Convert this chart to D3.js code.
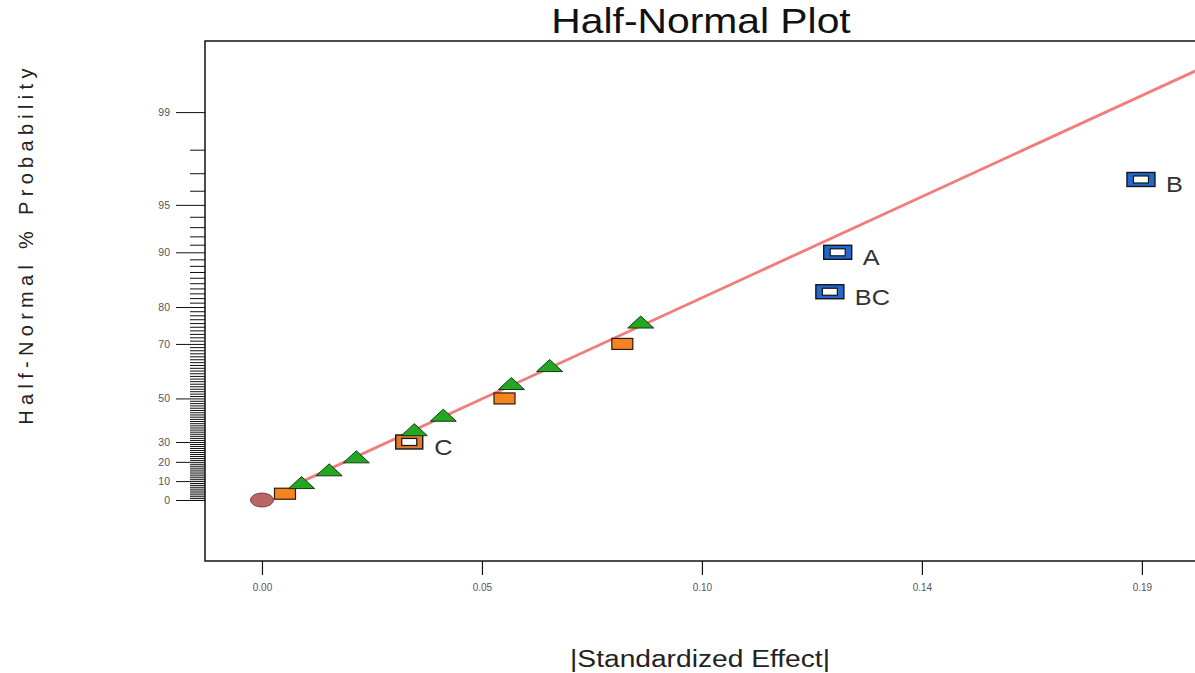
<!DOCTYPE html>
<html>
<head>
<meta charset="utf-8">
<script src="https://cdn.jsdelivr.net/npm/d3@7"></script>
<style>
  html, body { margin: 0; padding: 0; background: #ffffff; }
  svg { display: block; font-family: Arial, "Liberation Sans", sans-serif; }
</style>
</head>
<body>
<svg id="chart" width="1195" height="673"></svg>
<script>
// Absolute standardized effects for each model term
const effects = [0, 0.0050, 0.0086, 0.0146, 0.0205, 0.0320, 0.0331, 0.0394, 0.0527,
                 0.0542, 0.0625, 0.0783, 0.0823, 0.1234, 0.1251, 0.1910];
// Half-normal % probability for each term
const probabilities = [0, 3.33, 10, 16.67, 23.33, 30, 36.67, 43.33, 50,
                       56.67, 63.33, 70, 76.67, 83.33, 90, 96.67];
// Term kind: origin, negative effect, error estimate, positive effect
const termKinds = ["origin", "negative", "error", "error", "error", "negative", "error", "error", "negative",
                   "error", "error", "negative", "error", "positive", "positive", "positive"];
// Names of the selected model terms
const termLabels = ["", "", "", "", "", "C", "", "", "", "", "", "", "", "BC", "A", "B"];

// Reference line through the error terms
const fitLineEffects = [0.0075, 0.205];
const fitLineProbabilities = [8.39, 99.602];

// Axis ticks
const xTickValues = [0, 0.0478, 0.0956, 0.1434, 0.1912];
const yMajorTicks = [0, 10, 20, 30, 50, 70, 80, 90, 95, 99];

const titleText = "Half-Normal Plot";
const xTitleText = "|Standardized Effect|";
const yTitleText = "Half-Normal % Probability";

// ---- inverse standard normal CDF (Acklam) ----
function invNorm(p) {
  const a = [-3.969683028665376e+01, 2.209460984245205e+02, -2.759285104469687e+02,
             1.383577518672690e+02, -3.066479806614716e+01, 2.506628277459239e+00];
  const b = [-5.447609879822406e+01, 1.615858368580409e+02, -1.556989798598866e+02,
             6.680131188771972e+01, -1.328068155288572e+01];
  const c = [-7.784894002430293e-03, -3.223964580411365e-01, -2.400758277161838e+00,
             -2.549732539343734e+00, 4.374664141464968e+00, 2.938163982698783e+00];
  const d = [7.784695709041462e-03, 3.224671290700398e-01, 2.445134137142996e+00,
             3.754408661907416e+00];
  const pl = 0.02425, ph = 1 - pl;
  let q, r;
  if (p < pl) {
    q = Math.sqrt(-2 * Math.log(p));
    return (((((c[0]*q + c[1])*q + c[2])*q + c[3])*q + c[4])*q + c[5]) /
           ((((d[0]*q + d[1])*q + d[2])*q + d[3])*q + 1);
  }
  if (p <= ph) {
    q = p - 0.5; r = q * q;
    return (((((a[0]*r + a[1])*r + a[2])*r + a[3])*r + a[4])*r + a[5]) * q /
           (((((b[0]*r + b[1])*r + b[2])*r + b[3])*r + b[4])*r + 1);
  }
  q = Math.sqrt(-2 * Math.log(1 - p));
  return -(((((c[0]*q + c[1])*q + c[2])*q + c[3])*q + c[4])*q + c[5]) /
          ((((d[0]*q + d[1])*q + d[2])*q + d[3])*q + 1);
}
// half-normal quantile of a percentage
const halfNormalZ = pct => invNorm(0.5 + pct / 200);

// ---- layout ----
const svg = d3.select("#chart");
const plot = { left: 205, top: 41, right: 1210, bottom: 561 };

const x = d3.scaleLinear().domain([-0.01238, 0.2060]).range([plot.left, plot.right]);
const yz = d3.scaleLinear().domain([-0.405, 3.048]).range([plot.bottom, plot.top]);
const y = pct => yz(halfNormalZ(pct));

const STRETCH = 1.15;

svg.append("rect").attr("width", 1195).attr("height", 673).attr("fill", "#ffffff");

svg.append("defs").append("clipPath").attr("id", "plotClip")
  .append("rect")
  .attr("x", plot.left).attr("y", plot.top)
  .attr("width", plot.right - plot.left).attr("height", plot.bottom - plot.top);

// ---- y axis: probability scale ----
const yMinor = d3.range(1, 99).filter(v => !yMajorTicks.includes(v));

const yMinorAxis = d3.axisLeft(yz)
  .tickValues(yMinor.map(halfNormalZ))
  .tickSize(15)
  .tickFormat("");
svg.append("g")
  .attr("transform", `translate(${plot.left},0)`)
  .call(yMinorAxis)
  .call(g => g.select(".domain").remove())
  .call(g => g.selectAll("line").attr("stroke", "#111").attr("stroke-width", 1));

const yMajorAxis = d3.axisLeft(yz)
  .tickValues(yMajorTicks.map(halfNormalZ))
  .tickSize(29)
  .tickPadding(6)
  .tickFormat((d, i) => yMajorTicks[i]);
svg.append("g")
  .attr("transform", `translate(${plot.left},0)`)
  .call(yMajorAxis)
  .call(g => g.select(".domain").remove())
  .call(g => g.selectAll("line").attr("stroke", "#111").attr("stroke-width", 1))
  .call(g => g.selectAll("text")
    .attr("font-family", "Arial, 'Liberation Sans', sans-serif")
    .attr("font-size", 10.5).attr("fill", "#555"));

// ---- x axis ----
const xAxis = d3.axisBottom(x)
  .tickValues(xTickValues)
  .tickSize(14)
  .tickPadding(9)
  .tickFormat(d3.format(".2f"));
svg.append("g")
  .attr("transform", `translate(0,${plot.bottom})`)
  .call(xAxis)
  .call(g => g.select(".domain").remove())
  .call(g => g.selectAll("line").attr("stroke", "#111").attr("stroke-width", 1.2))
  .call(g => g.selectAll("text")
    .attr("font-family", "Arial, 'Liberation Sans', sans-serif")
    .attr("font-size", 10).attr("fill", "#555"));

// ---- plot frame ----
svg.append("rect")
  .attr("x", plot.left).attr("y", plot.top)
  .attr("width", plot.right - plot.left).attr("height", plot.bottom - plot.top)
  .attr("fill", "none").attr("stroke", "#111").attr("stroke-width", 1.5);

// ---- reference line ----
const fitData = fitLineEffects.map((e, i) => ({ e, p: fitLineProbabilities[i] }));
svg.append("path")
  .datum(fitData)
  .attr("clip-path", "url(#plotClip)")
  .attr("d", d3.line().x(d => x(d.e)).y(d => y(d.p)))
  .attr("fill", "none")
  .attr("stroke", "#f27c7c")
  .attr("stroke-width", 2.8);

// ---- points ----
const terms = effects.map((e, i) => ({
  e, p: probabilities[i], kind: termKinds[i], label: termLabels[i]
}));

const fills = { origin: "#b86666", negative: "#f5841f", error: "#22a822", positive: "#2368cc" };
const strokes = { origin: "#7d4040", negative: "#2a1a10", error: "#143814", positive: "#0d2244" };

const pts = svg.append("g").attr("clip-path", "url(#plotClip)");

terms.forEach(t => {
  const cx = x(t.e), cy = y(t.p);
  const g = pts.append("g").attr("transform", `translate(${cx},${cy})`);
  if (t.kind === "origin") {
    g.append("ellipse").attr("rx", 11.5).attr("ry", 7)
      .attr("fill", fills.origin).attr("stroke", strokes.origin).attr("stroke-width", 1);
  } else if (t.kind === "error") {
    g.append("path").attr("d", "M0,-4.5L13,7.5L-13,7.5Z")
      .attr("fill", fills.error).attr("stroke", strokes.error).attr("stroke-width", 1);
  } else if (t.label) {
    const w = t.kind === "positive" ? 28 : 27, h = 14;
    const fill = t.kind === "positive" ? fills.positive : "#dc7a2e";
    g.append("rect").attr("x", -w / 2).attr("y", -h / 2).attr("width", w).attr("height", h)
      .attr("fill", fill).attr("stroke", "#151515").attr("stroke-width", 1.4);
    g.append("rect").attr("x", -7.5).attr("y", -3.5).attr("width", 15).attr("height", 7)
      .attr("fill", "#ffffff").attr("stroke", "#151515").attr("stroke-width", 1.2);
  } else {
    g.append("rect").attr("x", -10.5).attr("y", -5.5).attr("width", 21).attr("height", 11)
      .attr("fill", fills.negative).attr("stroke", strokes.negative).attr("stroke-width", 1.2);
  }
});

// ---- term labels ----
terms.filter(t => t.label).forEach(t => {
  svg.append("text")
    .attr("transform", `translate(${x(t.e) + 25},${y(t.p) + 13}) scale(${STRETCH},1)`)
    .attr("font-size", 22)
    .attr("fill", "#333")
    .text(t.label);
});

// ---- titles ----
svg.append("text")
  .attr("transform", `translate(701,33) scale(${STRETCH},1)`)
  .attr("text-anchor", "middle")
  .attr("font-size", 35.5)
  .attr("fill", "#111")
  .text(titleText);

svg.append("text")
  .attr("transform", `translate(700,667) scale(${STRETCH},1)`)
  .attr("text-anchor", "middle")
  .attr("font-size", 24.5)
  .attr("fill", "#222")
  .text(xTitleText);

svg.append("text")
  .attr("transform", "translate(33,244) rotate(-90)")
  .attr("text-anchor", "middle")
  .attr("font-size", 20)
  .attr("letter-spacing", 5.3)
  .attr("fill", "#222")
  .text(yTitleText);
</script>
</body>
</html>
